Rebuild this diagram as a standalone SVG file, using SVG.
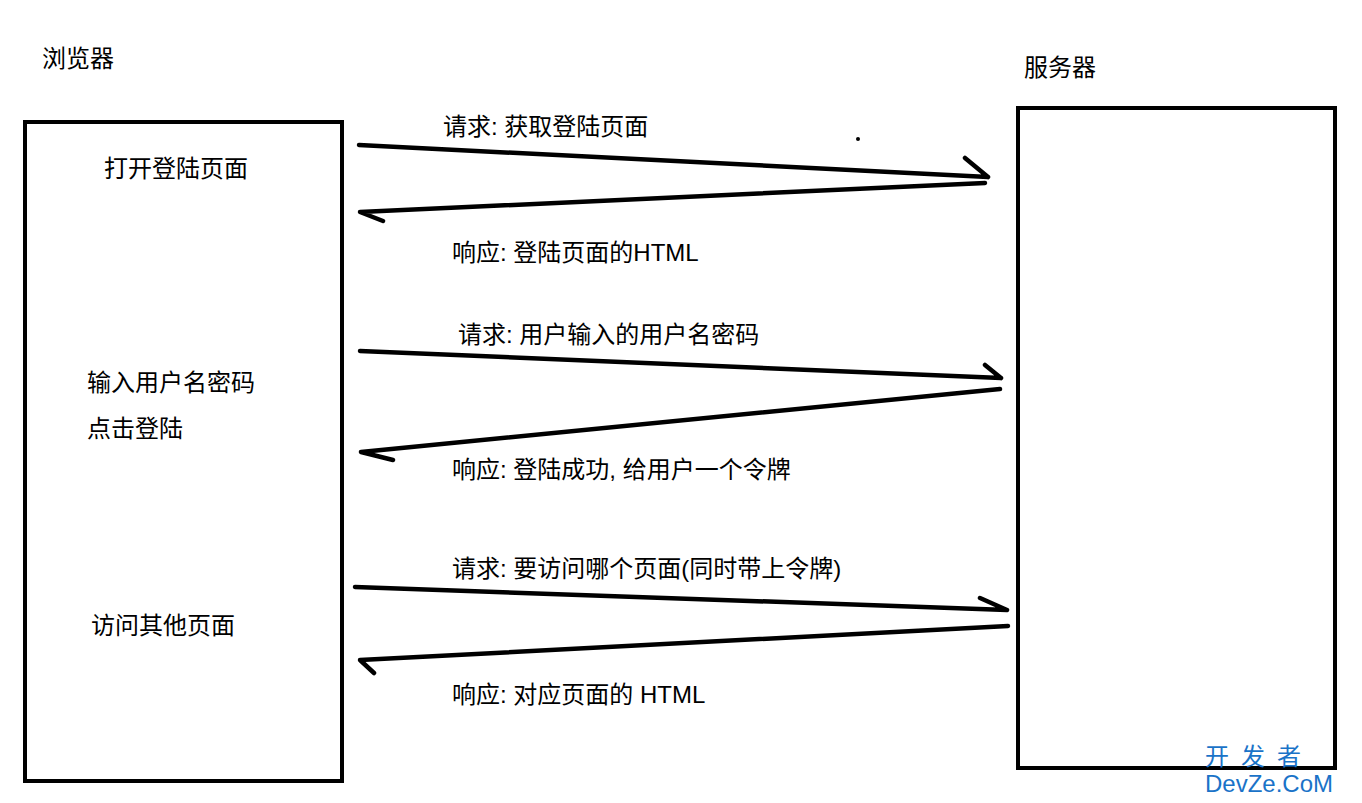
<svg xmlns="http://www.w3.org/2000/svg" width="1362" height="803" viewBox="0 0 1362 803">
<style>
text{font-family:"Liberation Sans","Noto Sans CJK SC",sans-serif;font-size:24px;fill:#000}
.box{fill:none;stroke:#000;stroke-width:4}
.ln{fill:none;stroke:#000;stroke-width:4.5;stroke-linecap:round;stroke-linejoin:round}
.wm{font-family:"Noto Sans CJK SC",sans-serif;fill:#1a73c8}
</style>
<rect width="1362" height="803" fill="#fff"/>
<g id="browser">
<text x="42" y="67">浏览器</text>
<rect class="box" x="25" y="122" width="317" height="659"/>
<text x="104" y="177">打开登陆页面</text>
<text x="87" y="391">输入用户名密码</text>
<text x="87" y="437">点击登陆</text>
<text x="91" y="634">访问其他页面</text>
</g>
<g id="server">
<text x="1024" y="76">服务器</text>
<rect class="box" x="1018" y="108" width="317" height="660"/>
</g>
<g id="connectors">
<path class="ln" d="M359,145 L988,177 M965,158 L988,177"/>
<path class="ln" d="M985,183 L360,212 L383,221"/>
<path class="ln" d="M360,351 L1001,378 M985,365 L1001,378"/>
<path class="ln" d="M1000,389 L361,452 L393,460"/>
<path class="ln" d="M355,587 L1007,610 M980,598 L1007,610"/>
<path class="ln" d="M1008,626 L360,660 L374,673"/>
<circle cx="858" cy="139" r="2"/>
</g>
<g id="labels">
<text x="443" y="135">请求: 获取登陆页面</text>
<text x="452" y="261">响应: 登陆页面的HTML</text>
<text x="458" y="343">请求: 用户输入的用户名密码</text>
<text x="452" y="478">响应: 登陆成功, 给用户一个令牌</text>
<text x="452" y="577">请求: 要访问哪个页面(同时带上令牌)</text>
<text x="452" y="703">响应: 对应页面的 HTML</text>
</g>
<g id="watermark">
<text class="wm" x="1205" y="765" font-size="32" letter-spacing="12">开发者</text>
<text class="wm" x="1205" y="792" font-size="28" style="font-family:'Liberation Sans',sans-serif">DevZe.CoM</text>
</g>
</svg>
